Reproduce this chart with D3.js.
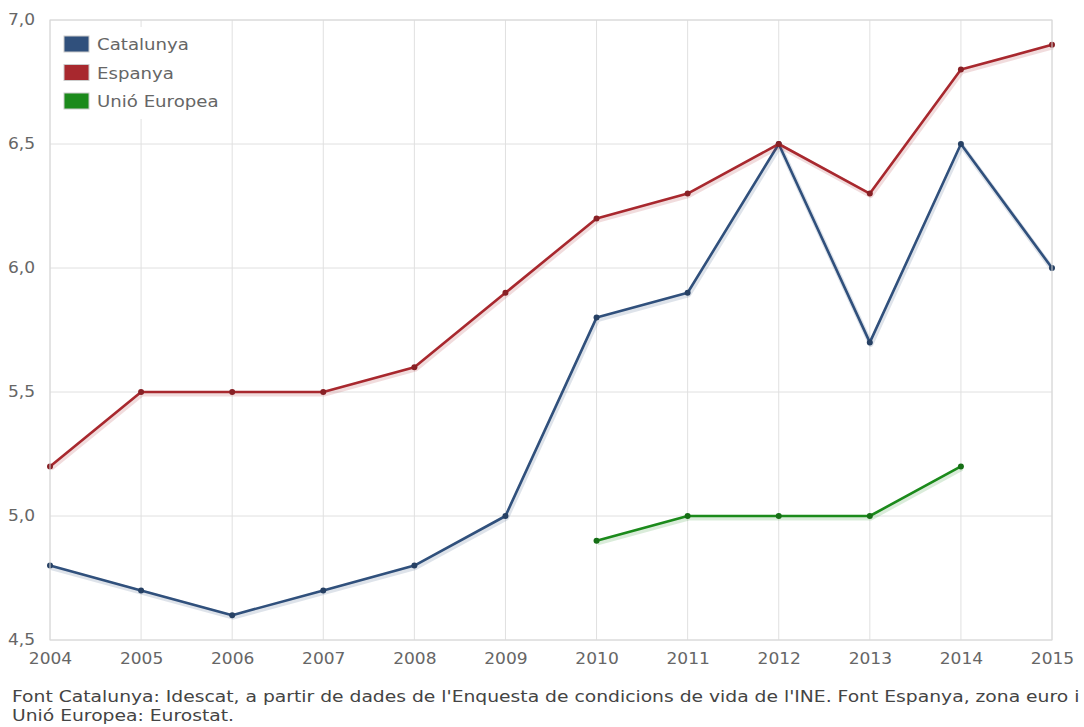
<!DOCTYPE html>
<html>
<head>
<meta charset="utf-8">
<script src="https://cdn.jsdelivr.net/npm/d3@7"></script>
<style>
  html, body { margin: 0; padding: 0; background: #fff; }
  svg { display: block; font-family: "DejaVu Sans", Verdana, sans-serif; }
</style>
</head>
<body>
<svg id="chart" width="1084" height="727"></svg>
<script>
// Years on the horizontal axis
const years = [2004, 2005, 2006, 2007, 2008, 2009, 2010, 2011, 2012, 2013, 2014, 2015];

// Series values (null where no figure is published)
const catalunya = [4.8, 4.7, 4.6, 4.7, 4.8, 5.0, 5.8, 5.9, 6.5, 5.7, 6.5, 6.0];
const espanya   = [5.2, 5.5, 5.5, 5.5, 5.6, 5.9, 6.2, 6.3, 6.5, 6.3, 6.8, 6.9];
const unioEuropea = [null, null, null, null, null, null, 4.9, 5.0, 5.0, 5.0, 5.2, null];

// Value axis ticks
const yTicks = [4.5, 5.0, 5.5, 6.0, 6.5, 7.0];

const seriesNames = ["Catalunya", "Espanya", "Unió Europea"];
const seriesColors = ["#30507c", "#a8282e", "#1b8a1b"];
const seriesValues = [catalunya, espanya, unioEuropea];

const footerLines = [
  "Font Catalunya: Idescat, a partir de dades de l'Enquesta de condicions de vida de l'INE. Font Espanya, zona euro i",
  "Unió Europea: Eurostat."
];

// Text in this chart is set slightly wide
const stretch = 1.1;

const svg = d3.select("#chart");
const plot = { left: 50, right: 1052, top: 20, bottom: 640 };

const x = d3.scaleLinear().domain([2004, 2015]).range([plot.left, plot.right]);
const y = d3.scaleLinear().domain([4.5, 7.0]).range([plot.bottom, plot.top]);

const fmt = v => d3.format(".1f")(v).replace(".", ",");

// Grid
const grid = svg.append("g");
grid.selectAll("line.v").data(years).join("line")
  .attr("x1", d => x(d)).attr("x2", d => x(d))
  .attr("y1", plot.top).attr("y2", plot.bottom)
  .attr("stroke", "#e0e0e0").attr("stroke-width", 1);
grid.selectAll("line.h").data(yTicks).join("line")
  .attr("x1", plot.left).attr("x2", plot.right)
  .attr("y1", d => y(d)).attr("y2", d => y(d))
  .attr("stroke", "#e0e0e0").attr("stroke-width", 1);

// Legend background box covers the grid under it
const legend = svg.append("g");
legend.append("rect")
  .attr("x", 54).attr("y", 27).attr("width", 176).attr("height", 92)
  .attr("fill", "#fff");

// Axes
const yAxis = d3.axisLeft(y).tickValues(yTicks).tickFormat(fmt).tickSize(0).tickPadding(15);
svg.append("g").attr("transform", `translate(${plot.left},0)`).call(yAxis)
  .call(g => g.select(".domain").remove())
  .call(g => g.selectAll("text").attr("fill", "#666").attr("font-size", 15.5)
    .attr("font-family", "DejaVu Sans, Verdana, sans-serif")
    .attr("transform", function () { return `translate(${-15},0) scale(${stretch},1) translate(15,0)`; }));

const xAxis = d3.axisBottom(x).tickValues(years).tickFormat(d3.format("d")).tickSize(0).tickPadding(13);
svg.append("g").attr("transform", `translate(0,${plot.bottom})`).call(xAxis)
  .call(g => g.select(".domain").remove())
  .call(g => g.selectAll("text").attr("fill", "#666").attr("font-size", 15.5)
    .attr("font-family", "DejaVu Sans, Verdana, sans-serif")
    .attr("transform", `scale(${stretch},1)`));

// Series lines with a soft shadow below each
const line = d3.line()
  .defined(d => d.v != null)
  .x(d => x(d.year)).y(d => y(d.v));

seriesValues.forEach((vals, i) => {
  const pts = years.map((yr, k) => ({ year: yr, v: vals[k] }));
  const g = svg.append("g");
  g.append("path").datum(pts)
    .attr("d", line).attr("fill", "none")
    .attr("stroke", seriesColors[i]).attr("stroke-opacity", 0.16)
    .attr("stroke-width", 5).attr("transform", "translate(1,2)")
    .attr("stroke-linejoin", "round");
  g.append("path").datum(pts)
    .attr("d", line).attr("fill", "none")
    .attr("stroke", seriesColors[i]).attr("stroke-width", 2.6)
    .attr("stroke-linejoin", "round");
  g.selectAll("circle").data(pts.filter(d => d.v != null)).join("circle")
    .attr("cx", d => x(d.year)).attr("cy", d => y(d.v)).attr("r", 3)
    .attr("fill", d3.color(seriesColors[i]).darker(0.6));
});

// Legend entries
seriesNames.forEach((name, i) => {
  const yy = 36 + i * 28.5;
  legend.append("rect")
    .attr("x", 64).attr("y", yy).attr("width", 25).attr("height", 16)
    .attr("fill", seriesColors[i]).attr("stroke", "#ccc").attr("stroke-width", 1);
  legend.append("text")
    .attr("transform", `translate(97,${yy + 14}) scale(${stretch},1)`)
    .attr("fill", "#666").attr("font-size", 16.5)
    .text(name);
});

// Plot frame
svg.append("rect")
  .attr("x", plot.left).attr("y", plot.top)
  .attr("width", plot.right - plot.left).attr("height", plot.bottom - plot.top)
  .attr("fill", "none").attr("stroke", "#d8d8d8").attr("stroke-width", 1);

// Source note, widened to span the chart
const footer = svg.append("g");
footer.selectAll("text").data(footerLines).join("text")
  .attr("x", 0).attr("y", (d, i) => 702 + i * 19.5)
  .attr("fill", "#444").attr("font-size", 16.5)
  .text(d => d);
const w0 = footer.select("text").node().getComputedTextLength();
footer.attr("transform", `translate(12,0) scale(${1068 / w0},1)`);
</script>
</body>
</html>
